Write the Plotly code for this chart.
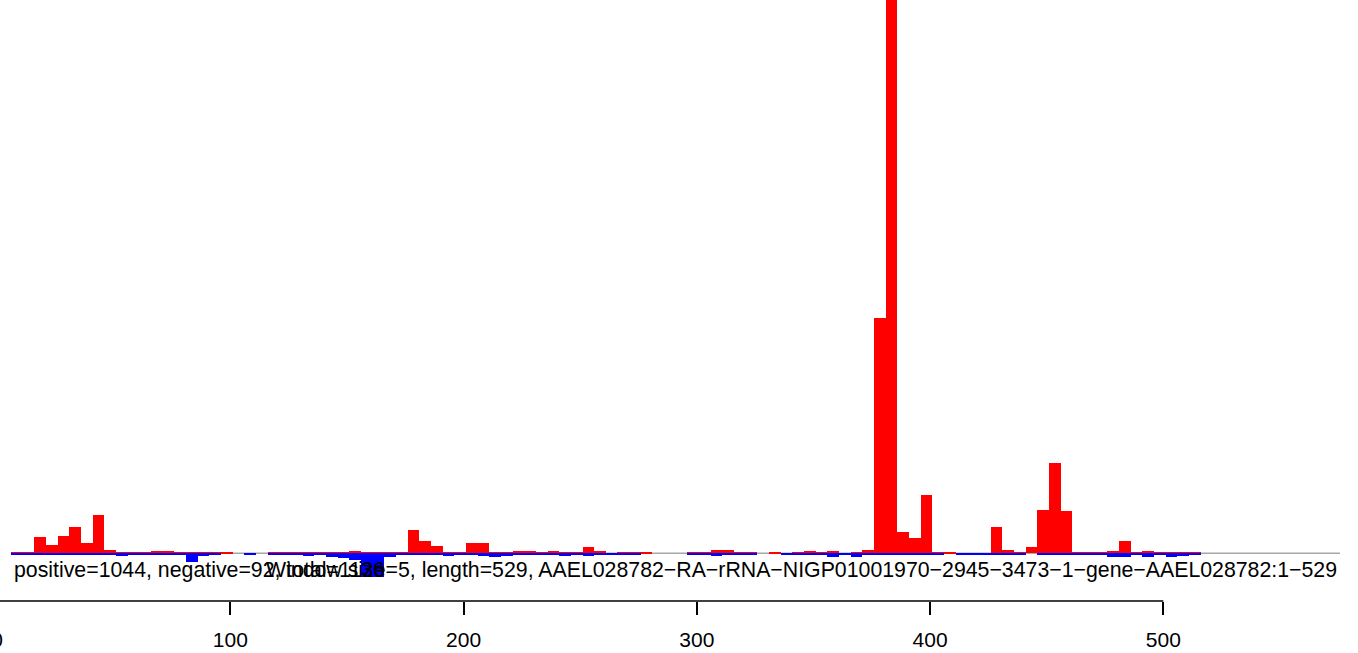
import plotly.graph_objects as go

# window start positions (window size 5, sequence length 529)
window_size = 5
seq_length = 529
window_start = [1 + 5 * k for k in range(106)]

# reads on the positive strand per window
pos_counts = [
    0, 1, 1, 13, 7, 14, 21, 8, 31, 3,
    1, 1, 1, 2, 2, 1, 1, 1, 1, 1,
    0, 0, 0, 1, 1, 1, 1, 1, 1, 1,
    2, 1, 1, 1, 1, 19, 10, 6, 1, 1,
    8, 8, 1, 1, 2, 2, 1, 2, 1, 1,
    5, 2, 0, 1, 1, 1, 0, 0, 0, 1,
    1, 3, 3, 1, 1, 0, 1, 0, 1, 2,
    1, 2, 0, 1, 3, 188, 480, 17, 12, 47,
    1, 1, 0, 0, 0, 21, 3, 1, 5, 35,
    72, 34, 1, 1, 1, 2, 10, 1, 2, 1,
    1, 1, 1, 0, 0, 0,
]

# reads on the negative strand per window
neg_counts = [
    0, 1, 1, 1, 1, 1, 1, 1, 1, 1,
    2, 1, 1, 1, 1, 1, 7, 2, 1, 0,
    0, 1, 0, 1, 1, 1, 2, 1, 3, 4,
    5, 19, 19, 3, 1, 1, 1, 1, 2, 1,
    1, 2, 3, 2, 1, 1, 1, 1, 2, 1,
    2, 1, 1, 1, 1, 0, 0, 0, 0, 1,
    1, 2, 1, 1, 1, 0, 0, 1, 1, 1,
    1, 3, 1, 3, 1, 1, 1, 1, 1, 1,
    1, 0, 1, 1, 1, 1, 1, 1, 0, 1,
    1, 1, 1, 1, 1, 3, 3, 1, 3, 1,
    3, 2, 1, 0, 0, 0,
]

tick_values = [0, 100, 200, 300, 400, 500]

label_left = "positive=1044, negative=92, total=1136"
label_right = ("Window size=5, length=529, "
               "AAEL028782\u2212RA\u2212rRNA\u2212NIGP01001970\u22122945\u22123473\u22121"
               "\u2212gene\u2212AAEL028782:1\u2212529")

centers = [s + window_size / 2 for s in window_start]

FONT = "Liberation Sans, Arial, Helvetica, sans-serif"

fig = go.Figure()
fig.add_trace(go.Bar(x=centers, y=pos_counts, width=window_size,
                     marker=dict(color="#FF0000", line=dict(width=0)),
                     showlegend=False, hoverinfo="skip"))
fig.add_trace(go.Bar(x=centers, y=[-v for v in neg_counts], width=window_size,
                     marker=dict(color="#0000FF", line=dict(width=0)),
                     showlegend=False, hoverinfo="skip"))

# screen geometry: plot area spans screen px -3 .. 1358 (div shifted left)
plot_left_screen = -3.0
plot_w = 1361.0
px_per_unit = 2.3325
x0_screen = -2.95
xmin = (plot_left_screen - x0_screen) / px_per_unit
xmax = (plot_left_screen + plot_w - x0_screen) / px_per_unit

base_screen = 553.3
plot_bottom = 601.0
y_px = 1.25
ymax = base_screen / y_px
ymin = -(plot_bottom - base_screen) / y_px


def sx(px):
    return (px - plot_left_screen) / plot_w


fig.add_shape(type="line", xref="paper", yref="y", x0=sx(11.7), x1=sx(1340), y0=0, y1=0,
              line=dict(color="#A8A8A8", width=1.6), layer="below")
fig.add_shape(type="line", xref="x", yref="paper", x0=tick_values[0], x1=tick_values[-1],
              y0=0, y1=0, line=dict(color="black", width=1.6))

ty = (plot_bottom - 570) / plot_bottom
fig.add_annotation(text=label_left, xref="paper", yref="paper", x=sx(11.7), y=ty,
                   xanchor="left", yanchor="middle", showarrow=False,
                   font=dict(family=FONT, size=21.3, color="black"))
fig.add_annotation(text=label_right, xref="paper", yref="paper", x=sx(1339), y=ty,
                   xanchor="right", yanchor="middle", showarrow=False,
                   font=dict(family=FONT, size=21.3, color="black"))

fig.update_layout(
    width=1367, height=653,
    margin=dict(l=6, r=0, t=0, b=52, pad=0),
    paper_bgcolor="white", plot_bgcolor="white",
    barmode="overlay", bargap=0,
    xaxis=dict(range=[xmin, xmax], tickvals=tick_values, ticks="outside", ticklen=13,
               tickwidth=1.6, tickcolor="black", showgrid=False, zeroline=False,
               showline=False, ticklabelstandoff=7,
               tickfont=dict(family=FONT, size=21, color="black")),
    yaxis=dict(range=[ymin, ymax], visible=False, showgrid=False, zeroline=False),
)

fig.write_html("out.html", config={"displayModeBar": False}, post_script=(
    "document.body.style.margin='0';document.body.style.overflow='hidden';"
    "var d=document.getElementById('{plot_id}');d.style.marginLeft='-9px';"))
